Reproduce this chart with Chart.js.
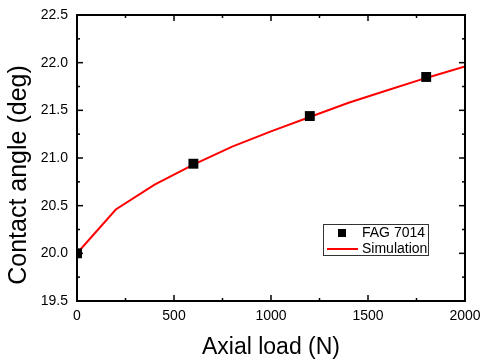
<!DOCTYPE html>
<html>
<head>
<meta charset="utf-8">
<script src="https://cdn.jsdelivr.net/npm/chart.js@4/dist/chart.umd.min.js"></script>
<style>
  html, body { margin: 0; padding: 0; background: #fff; }
  #wrap { width: 483px; height: 363px; }
</style>
</head>
<body>
<div id="wrap"><canvas id="myChart"></canvas></div>
<script>
// Axial load (N) for the measured points
const testLoads = [0, 600, 1200, 1800];
// Measured contact angle, FAG 7014
const testAngles = [20.0, 20.94, 21.44, 21.85];

// Simulation curve
const simLoads = [0, 200, 400, 600, 800, 1000, 1200, 1400, 1600, 1800, 2000];
const simAngles = [20.0, 20.46, 20.72, 20.93, 21.12, 21.28, 21.43, 21.58, 21.71, 21.84, 21.96];

const xTicks = [0, 500, 1000, 1500, 2000];
const yTicks = [19.5, 20.0, 20.5, 21.0, 21.5, 22.0, 22.5];

const yTitle = 'Contact angle (deg)';

const FONT = 'Arial, "Liberation Sans", sans-serif';

const toPoints = (xs, ys) => xs.map((x, i) => ({ x: x, y: ys[i] }));

// frame + inward ticks on all four sides, like an Origin plot
const frameTicks = {
    id: 'frameTicks',
    afterDatasetsDraw(chart) {
        const { ctx, chartArea: a, scales } = chart;
        const xs = scales.x, ys = scales.y;
        ctx.save();
        ctx.strokeStyle = '#000';
        ctx.lineWidth = 1.5;
        const tick = (x1, y1, x2, y2) => {
            ctx.beginPath();
            ctx.moveTo(x1, y1);
            ctx.lineTo(x2, y2);
            ctx.stroke();
        };
        // major and minor along x
        for (let i = 0; i < xTicks.length; i++) {
            const px = xs.getPixelForValue(xTicks[i]);
            tick(px, a.bottom, px, a.bottom - 6);
            tick(px, a.top, px, a.top + 6);
            if (i < xTicks.length - 1) {
                const mx = xs.getPixelForValue((xTicks[i] + xTicks[i + 1]) / 2);
                tick(mx, a.bottom, mx, a.bottom - 3);
                tick(mx, a.top, mx, a.top + 3);
            }
        }
        for (let i = 0; i < yTicks.length; i++) {
            const py = ys.getPixelForValue(yTicks[i]);
            tick(a.left, py, a.left + 6, py);
            tick(a.right, py, a.right - 6, py);
            if (i < yTicks.length - 1) {
                const my = ys.getPixelForValue((yTicks[i] + yTicks[i + 1]) / 2);
                tick(a.left, my, a.left + 3, my);
                tick(a.right, my, a.right - 3, my);
            }
        }
        ctx.lineWidth = 2;
        ctx.strokeRect(a.left, a.top, a.right - a.left, a.bottom - a.top);
        ctx.restore();
    },
    afterDraw(chart) {
        const { ctx, chartArea: a } = chart;
        ctx.save();
        // y title sits a bit below the middle of the axis in the original
        ctx.translate(19, a.top + (a.bottom - a.top) / 2 + 17);
        ctx.rotate(-Math.PI / 2);
        ctx.fillStyle = '#000';
        ctx.font = '25px ' + FONT;
        ctx.textAlign = 'center';
        ctx.textBaseline = 'middle';
        ctx.fillText(yTitle, 0, 0);
        ctx.restore();

        // legend box inside the plot, lower right
        const bx = a.right - 142, by = a.bottom - 77, bw = 105, bh = 31;
        ctx.save();
        ctx.fillStyle = '#fff';
        ctx.fillRect(bx, by, bw, bh);
        ctx.strokeStyle = '#333';
        ctx.lineWidth = 1;
        ctx.strokeRect(bx + 0.5, by + 0.5, bw, bh);
        ctx.fillStyle = '#000';
        ctx.fillRect(bx + 15, by + 5, 8, 8);
        ctx.strokeStyle = '#ff0000';
        ctx.lineWidth = 2;
        ctx.beginPath();
        ctx.moveTo(bx + 4, by + 25);
        ctx.lineTo(bx + 35, by + 25);
        ctx.stroke();
        ctx.fillStyle = '#000';
        ctx.font = '14px ' + FONT;
        ctx.textBaseline = 'middle';
        ctx.fillText(chart.data.datasets[0].label, bx + 39, by + 9);
        ctx.fillText(chart.data.datasets[1].label, bx + 39, by + 25);
        ctx.restore();
    }
};

const data = {
    datasets: [
        {
            label: 'FAG 7014',
            data: toPoints(testLoads, testAngles),
            showLine: false,
            pointStyle: 'rect',
            pointRadius: 7,
            pointBackgroundColor: '#000',
            pointBorderColor: '#000',
            pointBorderWidth: 0,
            order: 0,
        },
        {
            label: 'Simulation',
            data: toPoints(simLoads, simAngles),
            showLine: true,
            borderColor: '#ff0000',
            borderWidth: 2,
            pointRadius: 0,
            tension: 0,
            order: 1,
        },
    ],
};

const config = {
    type: 'scatter',
    data: data,
    options: {
        responsive: true,
        maintainAspectRatio: false,
        animation: false,
        layout: { padding: { top: 15, right: 18, left: 0, bottom: 0 } },
        plugins: {
            legend: { display: false },
            tooltip: { enabled: false },
        },
        scales: {
            x: {
                type: 'linear',
                min: 0,
                max: 2000,
                afterBuildTicks: (scale) => {
                    scale.ticks = xTicks.map((v) => ({ value: v }));
                },
                afterFit: (scale) => {
                    scale.height = 62;
                    scale.paddingLeft = 0;
                    scale.paddingRight = 0;
                },
                grid: { display: false, drawTicks: false },
                border: { display: false },
                ticks: {
                    color: '#000',
                    padding: 7,
                    maxRotation: 0,
                    font: { family: FONT, size: 14 },
                    callback: function (value) {
                        return String(value);
                    },
                },
                title: {
                    display: true,
                    text: 'Axial load (N)',
                    color: '#000',
                    font: { family: FONT, size: 23 },
                    padding: { top: 0, bottom: 2 },
                },
            },
            y: {
                min: 19.5,
                max: 22.5,
                afterBuildTicks: (scale) => {
                    scale.ticks = yTicks.map((v) => ({ value: v }));
                },
                afterFit: (scale) => {
                    scale.width = 77;
                    scale.paddingTop = 0;
                    scale.paddingBottom = 0;
                },
                grid: { display: false, drawTicks: false },
                border: { display: false },
                ticks: {
                    color: '#000',
                    padding: 9,
                    font: { family: FONT, size: 14 },
                    callback: function (value) {
                        return value.toFixed(1);
                    },
                },
            },
        },
    },
    plugins: [frameTicks],
};

const myChart = new Chart(document.querySelector('#myChart').getContext('2d'), config);
</script>
</body>
</html>
